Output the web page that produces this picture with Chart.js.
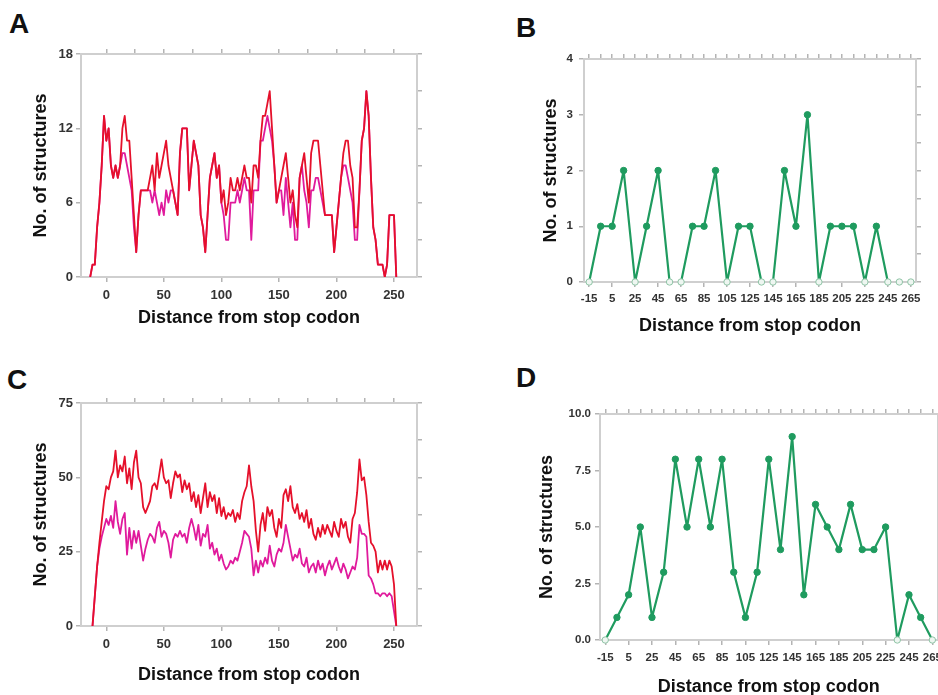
<!DOCTYPE html>
<html>
<head>
<meta charset="utf-8">
<script src="https://cdn.jsdelivr.net/npm/chart.js@4.4.1/dist/chart.umd.min.js"></script>
<style>
  html, body { margin: 0; padding: 0; background: #fff; overflow: hidden; width: 938px; height: 695px; }
  .panel { position: absolute; }
  .tag { position: absolute; font: bold 28px "Liberation Sans", Arial, sans-serif; color: #111; }
</style>
</head>
<body>
<div class="tag" style="left:9px;top:8px">A</div>
<div class="tag" style="left:516px;top:12px">B</div>
<div class="tag" style="left:7px;top:364px">C</div>
<div class="tag" style="left:516px;top:362px">D</div>

<canvas id="cA" class="panel" width="470" height="340" style="left:0;top:0"></canvas>
<canvas id="cB" class="panel" width="468" height="340" style="left:470px;top:0"></canvas>
<canvas id="cC" class="panel" width="470" height="350" style="left:0;top:345px"></canvas>
<canvas id="cD" class="panel" width="490" height="345" style="left:470px;top:360px"></canvas>

<script>
// ---- data ----
// A / C: structures counted per position (read every 2 nt)
const startA = -14, startC = -12, stepAC = 2;

const redA = [
  0, 1, 1, 4, 6, 9, 13, 11, 12, 9,
  8, 9, 8, 9, 12, 13, 11, 11, 8, 5,
  2, 5, 7, 7, 7, 7, 8, 9, 7, 10,
  8, 9, 10, 11, 9, 8, 7, 6, 5, 10,
  12, 12, 12, 7, 9, 11, 10, 9, 5, 4,
  2, 5, 8, 9, 10, 8, 9, 6, 7, 5,
  6, 8, 7, 7, 8, 7, 8, 9, 8, 8,
  6, 9, 9, 8, 11, 13, 13, 14, 15, 12,
  9, 6, 7, 8, 9, 10, 8, 6, 7, 5,
  4, 8, 9, 10, 8, 6, 10, 11, 11, 11,
  9, 7, 5, 5, 5, 5, 2, 4, 6, 8,
  10, 11, 11, 9, 8, 4, 4, 7, 11, 12,
  15, 13, 8, 4, 3, 1, 1, 1, 0, 1,
  5, 5, 5, 0
];
const pinkA = [
  0, 1, 1, 4, 6, 9, 13, 11, 12, 9,
  8, 9, 8, 9, 10, 10, 9, 8, 7, 4,
  2, 5, 7, 7, 7, 7, 7, 6, 7, 6,
  5, 6, 5, 7, 6, 7, 7, 6, 5, 10,
  12, 12, 12, 7, 9, 11, 10, 9, 5, 4,
  2, 5, 8, 9, 10, 8, 9, 6, 5, 3,
  3, 6, 6, 6, 7, 6, 7, 8, 7, 7,
  3, 7, 7, 7, 11, 11, 12, 13, 12, 11,
  9, 6, 7, 7, 5, 8, 6, 4, 6, 3,
  3, 8, 9, 7, 6, 4, 7, 7, 8, 8,
  7, 6, 5, 5, 5, 5, 2, 4, 6, 8,
  9, 9, 8, 7, 6, 3, 3, 7, 11, 12,
  15, 13, 8, 4, 3, 1, 1, 1, 0, 1,
  5, 5, 5, 0
];
const redC = [
  0, 10, 20, 28, 35, 42, 47, 46, 50, 52,
  59, 50, 54, 52, 57, 48, 53, 46, 55, 59,
  50, 48, 40, 38, 40, 42, 47, 48, 46, 51,
  56, 50, 48, 49, 43, 48, 52, 50, 51, 45,
  49, 46, 48, 42, 45, 40, 44, 38, 43, 48,
  40, 45, 42, 44, 38, 43, 37, 40, 36, 38,
  37, 39, 35, 38, 36, 42, 45, 47, 54, 47,
  42, 32, 25, 34, 38, 32, 40, 37, 39, 33,
  30, 36, 33, 44, 46, 42, 47, 40, 38, 41,
  36, 38, 35, 39, 33, 36, 31, 29, 33, 30,
  34, 31, 34, 32, 30, 35, 32, 30, 36, 33,
  35, 30, 28, 36, 38, 45, 56, 49, 50, 44,
  35, 28, 27, 25, 18, 22, 19, 22, 19, 22,
  20, 14, 0
];
const pinkC = [
  0, 10, 20, 26, 30, 33, 36, 34, 37, 33,
  42, 35, 31, 36, 38, 24, 33, 26, 32, 28,
  32, 27, 22, 26, 29, 31, 30, 28, 33, 35,
  30, 32, 31, 28, 23, 29, 31, 30, 32, 30,
  31, 28, 33, 36, 33, 29, 34, 27, 31, 30,
  34, 26, 28, 24, 26, 22, 24, 21, 19, 20,
  22, 21, 23, 22, 25, 28, 32, 31, 30, 26,
  17, 22, 18, 22, 20, 23, 21, 27, 22, 20,
  24, 26, 25, 28, 34, 30, 26, 22, 24, 23,
  26, 21, 20, 23, 18, 20, 21, 18, 22, 19,
  21, 17, 20, 22, 19, 21, 23, 20, 18, 21,
  19, 16, 18, 20, 19, 23, 34, 31, 31, 30,
  17, 16, 14, 11, 11, 10, 11, 11, 10, 11,
  10, 5, 0
];

// B / D: binned counts
const binsBD = [-15, -5, 5, 15, 25, 35, 45, 55, 65, 75, 85, 95, 105, 115, 125, 135, 145, 155, 165, 175, 185, 195, 205, 215, 225, 235, 245, 255, 265];
const countsB = [0, 1, 1, 2, 0, 1, 2, 0, 0, 1, 1, 2, 0, 1, 1, 0, 0, 2, 1, 3, 0, 1, 1, 1, 0, 1, 0, 0, 0];
const countsD = [0, 1, 2, 5, 1, 3, 8, 5, 8, 5, 8, 3, 1, 3, 8, 4, 9, 2, 6, 5, 4, 6, 4, 4, 5, 0, 2, 1, 0];

// tick labels
const xLabelsAC = [0, 50, 100, 150, 200, 250];
const xMinorAC = [0, 25, 50, 75, 100, 125, 150, 175, 200, 225, 250];
const xLabelsBD = [-15, 5, 25, 45, 65, 85, 105, 125, 145, 165, 185, 205, 225, 245, 265];
const yLabelsA = [0, 6, 12, 18];
const yMinorA = [0, 3, 6, 9, 12, 15, 18];
const yLabelsB = [0, 1, 2, 3, 4];
const yMinorB = [0, 0.5, 1, 1.5, 2, 2.5, 3, 3.5, 4];
const yLabelsC = [0, 25, 50, 75];
const yMinorC = [0, 12.5, 25, 37.5, 50, 62.5, 75];
const yLabelsD = [0, 2.5, 5, 7.5, 10];
const yMinorD = [0, 1.25, 2.5, 3.75, 5, 6.25, 7.5, 8.75, 10];

// ---- styling ----
const FONT = '"Liberation Sans", Arial, sans-serif';
const RED = '#e5102b', PINK = '#e01a9c', GREEN = '#1f9b5f';
const TICK_GRAY = '#b4b4b4', FRAME_GRAY = '#cfcfcf';
const XTITLE = 'Distance from stop codon', YTITLE = 'No. of structures';

Chart.defaults.font.family = FONT;

const pts = (start, vals) => vals.map((v, i) => ({ x: start + i * stepAC, y: v }));
const binPts = vals => binsBD.map((x, i) => ({ x, y: vals[i] }));

const traceSet = (data, color) => ({
  data, borderColor: color, borderWidth: 1.8, borderJoinStyle: 'round', pointRadius: 0, tension: 0,
  xAxisID: 'x', yAxisID: 'y'
});

const zero = ctx => ctx.raw && ctx.raw.y === 0;
const dotSet = data => ({
  data, borderColor: GREEN, borderWidth: 2.2, borderJoinStyle: 'round', tension: 0, clip: false,
  pointRadius: 3.2, pointBorderWidth: 1,
  pointBackgroundColor: ctx => zero(ctx) ? '#eef6f1' : GREEN,
  pointBorderColor: ctx => zero(ctx) ? '#8fc4a6' : GREEN,
  // no line between two empty bins
  segment: { borderColor: ctx => (ctx.p0.parsed.y === 0 && ctx.p1.parsed.y === 0) ? 'rgba(0,0,0,0)' : undefined },
  xAxisID: 'x', yAxisID: 'y'
});

function makeChart(id, o) {
  const setTicks = arr => s => { s.ticks = arr.map(v => ({ value: v })); };
  const grid = { display: true, drawOnChartArea: false, drawTicks: true, tickLength: 5, color: TICK_GRAY, lineWidth: 1.5 };
  const border = { display: true, color: FRAME_GRAY, width: 2 };
  const bold = size => ({ size, weight: 'bold', family: FONT });

  return new Chart(document.getElementById(id), {
    type: 'line',
    data: { datasets: o.datasets },
    options: {
      responsive: false, animation: false, events: [],
      layout: { padding: 0 },
      plugins: { legend: { display: false }, tooltip: { enabled: false } },
      scales: {
        x: {
          type: 'linear', axis: 'x', position: 'bottom', min: o.x[0], max: o.x[1],
          afterBuildTicks: setTicks(o.xLabels), afterFit: s => { s.height = o.box.b; },
          grid, border,
          ticks: { autoSkip: false, maxRotation: 0, padding: o.xPad, color: '#333', font: bold(o.xFont), callback: v => String(v) },
          title: { display: true, text: XTITLE, color: '#111', font: bold(18), padding: { top: 0, bottom: o.xTitlePad } }
        },
        xTop: {
          type: 'linear', axis: 'x', position: 'top', min: o.x[0], max: o.x[1],
          afterBuildTicks: setTicks(o.xMinor), afterFit: s => { s.height = o.box.t; },
          grid, border, ticks: { display: false }
        },
        y: {
          type: 'linear', axis: 'y', position: 'left', min: o.y[0], max: o.y[1],
          afterBuildTicks: setTicks(o.yLabels), afterFit: s => { s.width = o.box.l; },
          grid, border,
          ticks: { padding: o.yPad, color: '#333', font: bold(o.yFont), callback: o.yFmt || (v => String(v)) },
          title: { display: true, text: YTITLE, color: '#111', font: bold(18), padding: { top: o.yTitlePad, bottom: 0 } }
        },
        yRight: {
          type: 'linear', axis: 'y', position: 'right', min: o.y[0], max: o.y[1],
          afterBuildTicks: setTicks(o.yMinor), afterFit: s => { s.width = o.box.r; },
          grid, border, ticks: { display: false }
        }
      }
    }
  });
}

makeChart('cA', {
  datasets: [traceSet(pts(startA, redA), RED), traceSet(pts(startA, pinkA), PINK)],
  x: [-22, 270], y: [0, 18], xLabels: xLabelsAC, xMinor: xMinorAC, yLabels: yLabelsA, yMinor: yMinorA,
  box: { l: 81, t: 54, r: 53, b: 63 }, xFont: 13, yFont: 13, xPad: 6, yPad: 3, xTitlePad: 11, yTitlePad: 30
});

makeChart('cB', {
  datasets: [dotSet(binPts(countsB))],
  x: [-19.5, 269.5], y: [0, 4], xLabels: xLabelsBD, xMinor: binsBD, yLabels: yLabelsB, yMinor: yMinorB,
  box: { l: 114, t: 59, r: 22, b: 58 }, xFont: 11.5, yFont: 11.5, xPad: 5, yPad: 6, xTitlePad: 3, yTitlePad: 70
});

makeChart('cC', {
  datasets: [traceSet(pts(startC, redC), RED), traceSet(pts(startC, pinkC), PINK)],
  x: [-22, 270], y: [0, 75], xLabels: xLabelsAC, xMinor: xMinorAC, yLabels: yLabelsC, yMinor: yMinorC,
  box: { l: 81, t: 58, r: 53, b: 69 }, xFont: 13, yFont: 13, xPad: 6, yPad: 3, xTitlePad: 9, yTitlePad: 30
});

makeChart('cD', {
  datasets: [dotSet(binPts(countsD))],
  x: [-19.5, 269.5], y: [0, 10], xLabels: xLabelsBD, xMinor: binsBD, yLabels: yLabelsD, yMinor: yMinorD,
  box: { l: 130, t: 54, r: 22.4, b: 65 }, xFont: 11.5, yFont: 11.5, xPad: 6, yPad: 4, xTitlePad: 7, yTitlePad: 66,
  yFmt: v => v.toFixed(1)
});
</script>
</body>
</html>
